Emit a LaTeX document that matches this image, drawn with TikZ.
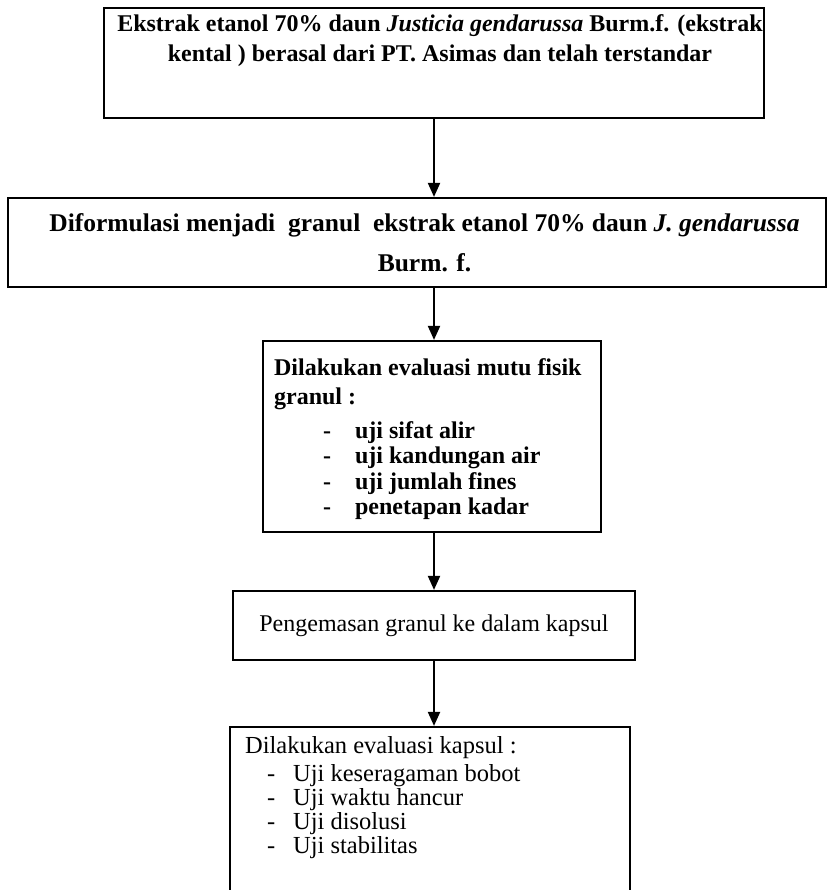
\documentclass[tikz,border=0pt]{standalone}
\usepackage{fontspec}
\setmainfont{Liberation Serif}
\usetikzlibrary{arrows.meta, positioning}
\newcommand{\listline}[3]{\hspace*{#1}\makebox[#2][l]{-}#3}

\begin{document}
\begin{tikzpicture}[
    x=1pt, y=-1pt,
    box/.style={draw, line width=2.2pt, inner sep=0pt},
    boldtxt/.style={inner sep=0pt, font=\fontsize{24}{30}\selectfont\bfseries},
    plaintxt/.style={inner sep=0pt, font=\fontsize{24}{24}\selectfont},
    arrow/.style={-{Triangle[length=14pt,width=12pt]}, line width=2pt}
  ]
    \useasboundingbox (0,0) rectangle (837,890);
    \coordinate (axis) at (434,0);

    % boxes
    \node[box, minimum width=660pt, minimum height=110pt] (b1) at (434,63) {};
    \node[box, boldtxt, align=center, font=\fontsize{25.5}{40}\selectfont\bfseries,
          minimum width=818pt, minimum height=89pt] (b2) at (417,242.5)
      {\hspace*{15pt}Diformulasi menjadi\ \ granul\ \ ekstrak etanol 70\% daun \textit{J. gendarussa}\\\hspace*{15pt}Burm. f.};
    \node[box, minimum width=338pt, minimum height=191pt] (b3) at (432,436.5) {};
    \node[box, plaintxt, minimum width=402pt, minimum height=69pt] (b4) at (434,625.5)
      {Pengemasan granul ke dalam kapsul};
    \node[box, minimum width=400pt, minimum height=250pt] (b5) at (430,852) {};

    % texts
    \node[boldtxt, align=center, below=8pt of b1.north, xshift=6pt] (t1)
      {Ekstrak etanol 70\% daun \textit{Justicia gendarussa} Burm.f. (ekstrak\\
       kental ) berasal dari PT. Asimas dan telah terstandar};
    \node[boldtxt, align=left, font=\fontsize{24}{25.5}\selectfont\bfseries,
          below right=18pt and 12pt of b3.north west] (t3)
      {Dilakukan evaluasi mutu fisik\\[3.5pt]
       granul :\\[8.5pt]
       \listline{49pt}{32pt}{uji sifat alir}\\
       \listline{49pt}{32pt}{uji kandungan air}\\
       \listline{49pt}{32pt}{uji jumlah fines}\\
       \listline{49pt}{32pt}{penetapan kadar}};
    \node[plaintxt, align=left, font=\fontsize{24.5}{24}\selectfont,
          below right=10pt and 16pt of b5.north west] (t5)
      {Dilakukan evaluasi kapsul :\\[4pt]
       \listline{22pt}{26pt}{Uji keseragaman bobot}\\
       \listline{22pt}{26pt}{Uji waktu hancur}\\
       \listline{22pt}{26pt}{Uji disolusi}\\
       \listline{22pt}{26pt}{Uji stabilitas}};

    \draw[arrow] (b1.south -| axis) -- (b2.north -| axis);
    \draw[arrow] (b2.south -| axis) -- (b3.north -| axis);
    \draw[arrow] (b3.south -| axis) -- (b4.north -| axis);
    \draw[arrow] (b4.south -| axis) -- (b5.north -| axis);
\end{tikzpicture}
\end{document}
